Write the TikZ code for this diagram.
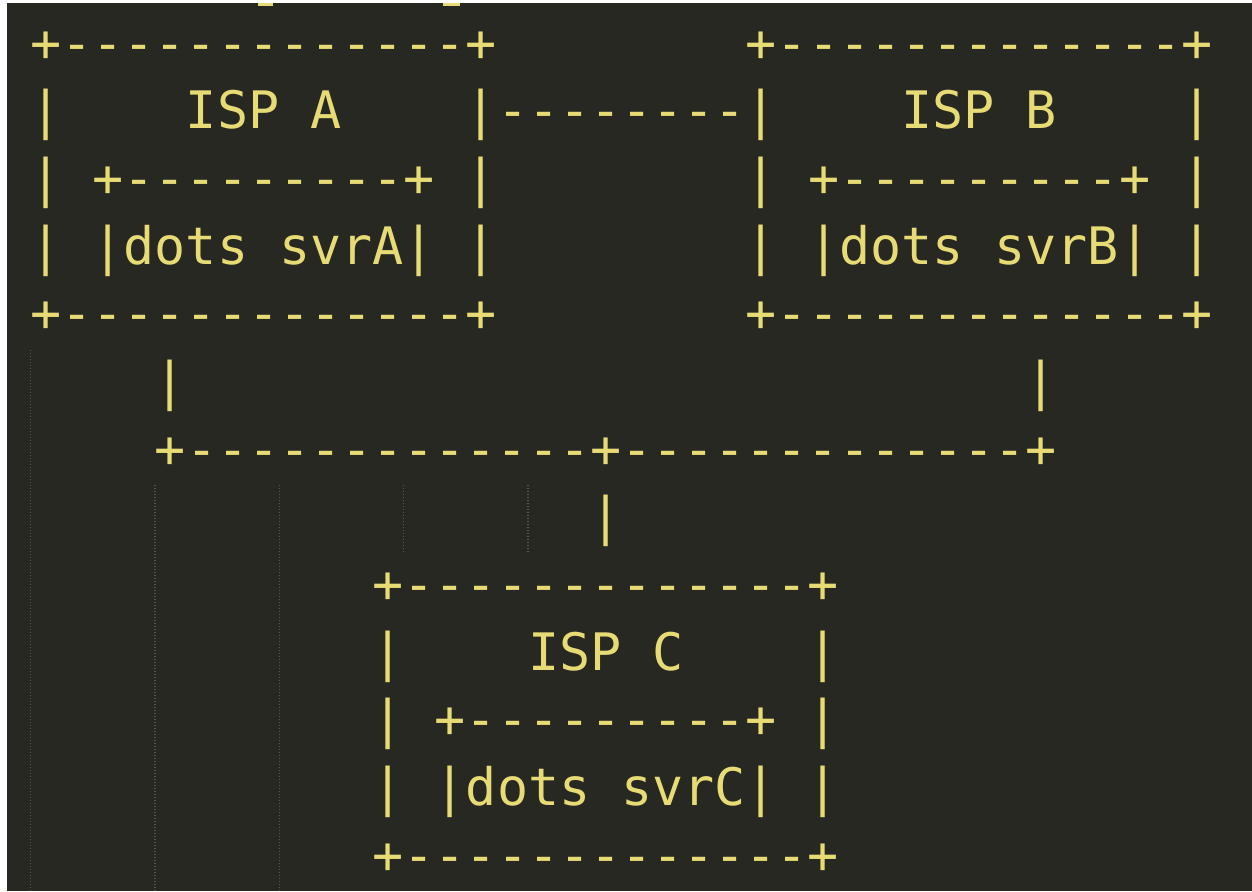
\documentclass[tikz,border=0pt]{standalone}
\usepackage{fontspec}
\setmonofont{DejaVu Sans Mono}
\definecolor{editorbg}{HTML}{272822}
\definecolor{strfg}{HTML}{E6DB74}
\definecolor{guide}{HTML}{55564E}
% character grid of the editor (1 unit = 1pt)
\newcommand\cw{31.1}   % column width
\newcommand\lh{67.67}  % line height
\newcommand\xo{30.5}   % left edge of column 0
\newcommand\yo{61}     % baseline of line 0
\tikzset{
  ascii/.style={anchor=base west, inner sep=0pt, outer sep=0pt, text=strfg,
    font=\ttfamily\fontsize{51.66}{67.67}\selectfont},
  indentguide/.style={draw=guide, line width=1.3pt, dash pattern=on 1.3pt off 1.7pt},
}
% \seg{name}{column}{line}{text}
\newcommand\seg[4]{\node[ascii] (#1) at ({\xo+#2*\cw},{\yo+#3*\lh}) {#4};}
% \guide{column}{first line}{y end}
\newcommand\guide[3]{\draw[indentguide] ({\xo+#1*\cw},{11.2+#2*\lh}) -- ({\xo+#1*\cw},#3);}
\begin{document}
\begin{tikzpicture}[x=1pt,y=-1pt]
  \useasboundingbox (0,0) rectangle (1252,891);
  \fill[white] (0,0) rectangle (1252,891);
  \fill[editorbg] (7,3) rectangle (1252,891);

  % indent guides
  \guide{0}{5}{891}
  \guide{4}{7}{891}
  \guide{8}{7}{891}
  \guide{12}{7}{552.6}
  \guide{16}{7}{552.6}

  % glyph ends of the line scrolled off above
  \fill[strfg] (258,3) rectangle (273,6);
  \fill[strfg] (443,3) rectangle (460,6);

  % ISP A
  \seg{ispA-0}{0}{0}{+-------------+}
  \seg{ispA-1}{0}{1}{|~~~~ISP~A~~~~|}
  \seg{ispA-2}{0}{2}{|~+---------+~|}
  \seg{ispA-3}{0}{3}{|~|dots~svrA|~|}
  \seg{ispA-4}{0}{4}{+-------------+}

  % ISP B
  \seg{ispB-0}{23}{0}{+-------------+}
  \seg{ispB-1}{23}{1}{|~~~~ISP~B~~~~|}
  \seg{ispB-2}{23}{2}{|~+---------+~|}
  \seg{ispB-3}{23}{3}{|~|dots~svrB|~|}
  \seg{ispB-4}{23}{4}{+-------------+}

  % peering link A -- B
  \seg{peerAB}{15}{1}{--------}

  % uplinks to the shared segment
  \seg{upA}{4}{5}{|}
  \seg{upB}{32}{5}{|}
  \seg{bus}{4}{6}{+-------------+-------------+}
  \seg{downC}{18}{7}{|}

  % ISP C
  \seg{ispC-0}{11}{8}{+-------------+}
  \seg{ispC-1}{11}{9}{|~~~~ISP~C~~~~|}
  \seg{ispC-2}{11}{10}{|~+---------+~|}
  \seg{ispC-3}{11}{11}{|~|dots~svrC|~|}
  \seg{ispC-4}{11}{12}{+-------------+}
\end{tikzpicture}
\end{document}
